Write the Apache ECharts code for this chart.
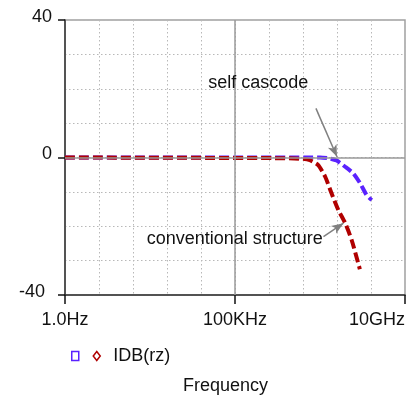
<!DOCTYPE html>
<html><head><meta charset="utf-8">
<script src="https://cdn.jsdelivr.net/npm/echarts@6/dist/echarts.min.js"></script>
<style>html,body{margin:0;padding:0;background:#fff}#c{width:417px;height:398px}</style>
</head><body><div id="c"></div>
<script>
// ---- data (frequency in Hz, magnitude in dB) ----
const convFreq = [1, 3e6, 1e7, 1.6e7, 2.8e7, 4.5e7, 6.9e7, 1.1e8, 1.74e8, 2.7e8, 4.7e8];
const convDb   = [0, -0.2, -0.4, -0.8, -2.2, -5.6, -10.4, -15.3, -19.1, -24, -32.5];
const scFreq   = [1, 3.2e7, 6.2e7, 9.8e7, 1.74e8, 3e8, 4.8e8, 7.4e8, 1.05e9];
const scDb     = [0, 0, -0.3, -0.9, -2.7, -4.6, -7.5, -10.9, -12.4];
const xTickValues = [1, 1e5, 1e10];
const xTickLabels = ['1.0Hz', '100KHz', '10GHz'];
const yTickValues = [-40, 0, 40];
const yTickLabels = ['-40', '0', '40'];
const seriesNames = ['self cascode', 'conventional structure'];
const legendLabel = 'IDB(rz)';
const axisTitle = 'Frequency';
const noteTexts = ['self cascode', 'conventional structure'];
const noteAt    = [[4.8e5, 21.7], [9.8e4, -23.7]];
const noteFrom  = [[2.4e7, 14.3], [4.0e7, -23.0]];
const noteTo    = [[1.0e8, 0.2], [1.55e8, -19.1]];

const blue = '#5a22ff';
const red = '#b00000';
const font = '"Liberation Sans", Arial, sans-serif';
const gridLine = {color: '#b8b8b8', type: [1.5, 2.5], width: 1};

function xLabel(v) {
  const e = Math.round(Math.log10(v));
  for (let i = 0; i < xTickValues.length; i++) {
    if (Math.round(Math.log10(xTickValues[i])) === e) return xTickLabels[i];
  }
  return '';
}
function yLabel(v) {
  const i = yTickValues.indexOf(Math.round(v));
  if (i < 0) return '';
  return v < 0 ? '{neg|' + yTickLabels[i] + '}' : yTickLabels[i];
}

const chart = echarts.init(document.getElementById('c'));
chart.setOption({
  animation: false,
  textStyle: {fontFamily: font},
  title: {text: axisTitle, left: 183, top: 377, padding: 0,
    textStyle: {fontSize: 18, fontWeight: 'normal', color: '#111', fontFamily: font}},
  legend: {
    left: 71, top: 347, padding: 0, itemWidth: 7, itemHeight: 9, itemGap: 13, selectedMode: false,
    data: [
      {name: seriesNames[0], icon: 'rect', itemStyle: {color: 'rgba(0,0,0,0)', borderColor: blue, borderWidth: 1.5}},
      {name: seriesNames[1], icon: 'diamond', itemStyle: {color: 'rgba(0,0,0,0)', borderColor: red, borderWidth: 1.5}}
    ],
    formatter: n => (n === seriesNames[1] ? legendLabel : ''),
    textStyle: {fontSize: 18, color: '#111', padding: [0, 0, 0, 8], fontFamily: font}
  },
  grid: {left: 65, right: 12, top: 20, bottom: 103, show: true, borderColor: '#a0a0a0', borderWidth: 1.5},
  xAxis: [
    {type: 'log', logBase: 10, min: 1, max: 1e10, interval: 1,
      axisLine: {show: false, onZero: false}, axisTick: {show: false}, axisLabel: {show: false},
      splitLine: {show: true, lineStyle: gridLine}},
    {type: 'log', logBase: 10, min: 1, max: 1e10, interval: 5, position: 'bottom',
      axisLine: {show: true, onZero: false, lineStyle: {color: '#333', width: 1.5}},
      axisTick: {show: true, length: 9, lineStyle: {color: '#111', width: 1.5}},
      axisLabel: {margin: 16, fontSize: 18, color: '#111', formatter: xLabel, alignMaxLabel: 'right', fontFamily: font},
      splitLine: {show: false}}
  ],
  yAxis: [
    {type: 'value', min: -40, max: 40, interval: 10,
      axisLine: {show: false, onZero: false}, axisTick: {show: false}, axisLabel: {show: false},
      splitLine: {show: true, lineStyle: gridLine}},
    {type: 'value', min: -40, max: 40, interval: 40, position: 'left',
      axisLine: {show: true, onZero: false, lineStyle: {color: '#333', width: 1.5}},
      axisTick: {show: true, length: 7, lineStyle: {color: '#111', width: 1.5}},
      axisLabel: {margin: 13, fontSize: 18, color: '#111', formatter: yLabel, padding: [0, 0, 6, 0], fontFamily: font,
        rich: {neg: {fontSize: 18, color: '#111', fontFamily: font, padding: [0, 7, 0, 0]}}},
      splitLine: {show: false}}
  ],
  series: [
    {type: 'line', name: '__ref', data: [], silent: true,
      markLine: {silent: true, symbol: 'none', animation: false,
        lineStyle: {color: '#9a9a9a', type: 'solid', width: 1.5}, label: {show: false},
        data: [{yAxis: 0}, {xAxis: xTickValues[1]}]}},
    {type: 'line', name: seriesNames[0], data: scFreq.map((f, i) => [f, scDb[i]]),
      showSymbol: false, smooth: 0.2, z: 3,
      lineStyle: {color: blue, width: 4, type: [10, 4]}, itemStyle: {color: blue}},
    {type: 'line', name: seriesNames[1], data: convFreq.map((f, i) => [f, convDb[i]]),
      showSymbol: false, smooth: 0.2, z: 4,
      lineStyle: {color: red, width: 4, type: [10, 4]}, itemStyle: {color: red}},
    {type: 'line', name: '__notes', data: [], silent: true, z: 5,
      markLine: {silent: true, symbol: ['none', 'arrow'], symbolSize: [7, 12], animation: false,
        lineStyle: {color: '#808080', type: 'solid', width: 1.5}, label: {show: false},
        data: noteFrom.map((f, i) => [{coord: f}, {coord: noteTo[i]}])},
      markPoint: {silent: true, symbol: 'circle', symbolSize: 0, animation: false,
        label: {show: true, position: 'inside', formatter: '{b}', fontSize: 18, color: '#111', fontFamily: font},
        data: noteAt.map((c, i) => ({name: noteTexts[i], coord: c}))}}
  ]
});
</script></body></html>
